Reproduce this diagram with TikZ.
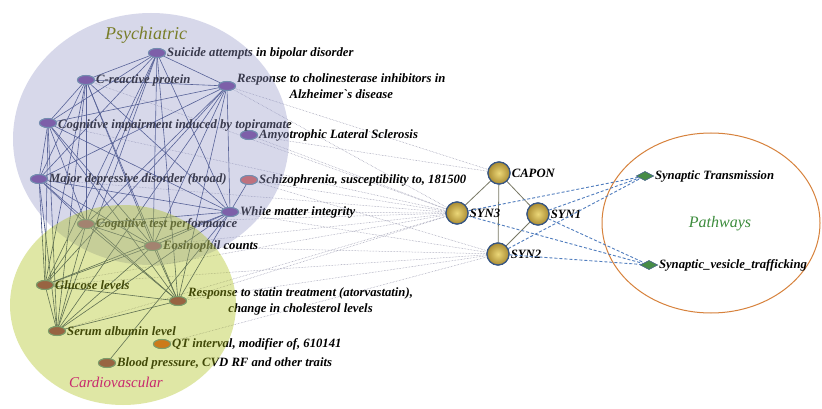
\documentclass[tikz,border=0pt]{standalone}
\usepackage{fontspec}
\setmainfont{Liberation Serif}
\usetikzlibrary{shapes.geometric}
\definecolor{psyfill}{RGB}{150,153,202}
\definecolor{cvfill}{RGB}{172,192,20}
\definecolor{netline}{RGB}{50,65,120}
\definecolor{nodeedge}{RGB}{95,135,160}
\definecolor{purp}{RGB}{110,60,150}
\definecolor{salmon}{RGB}{215,90,80}
\definecolor{qtorange}{RGB}{225,80,30}
\definecolor{maroon}{RGB}{140,45,95}
\definecolor{mauve}{RGB}{165,60,150}
\definecolor{dotgray}{RGB}{140,140,165}
\definecolor{dashblue}{RGB}{80,125,190}
\definecolor{goldin}{RGB}{235,215,120}
\definecolor{goldout}{RGB}{170,140,50}
\definecolor{geneedge}{RGB}{55,85,130}
\definecolor{genelink}{RGB}{120,120,100}
\definecolor{pwgreen}{RGB}{70,140,70}
\definecolor{pwedge}{RGB}{80,110,140}
\definecolor{ellorange}{RGB}{215,130,60}
\definecolor{psytext}{RGB}{120,125,40}
\definecolor{cvtext}{RGB}{200,40,110}
\definecolor{pwtext}{RGB}{60,140,60}
\begin{document}
\begin{tikzpicture}[x=1pt,y=-1pt,
  trait/.style={ellipse, minimum width=17pt, minimum height=9pt, inner sep=0pt, draw=nodeedge, line width=1pt},
  lab/.style={anchor=west, font=\fontsize{12.7}{16}\selectfont\bfseries\itshape, inner sep=1pt, align=center, text=black},
  netedge/.style={draw=netline, line width=0.6pt},
  gdotted/.style={draw=dotgray, densely dotted, line width=0.5pt},
  bdashed/.style={draw=dashblue, densely dashed, line width=0.9pt},
  gene/.style={circle, minimum size=22pt, inner sep=0pt, draw=geneedge, line width=1.2pt, inner color=goldin, outer color=goldout},
  pwnode/.style={diamond, minimum width=17pt, minimum height=9pt, inner sep=0pt, fill=pwgreen, draw=pwedge, line width=0.6pt},
  catlab/.style={font=\fontsize{16}{18}\selectfont\itshape, inner sep=0pt}
]
\useasboundingbox (0,0) rectangle (822,409);
\fill[white] (0,0) rectangle (822,409);

% gene nodes (declared first for edges)
\node[gene] (capon) at (499,173) {};
\node[gene] (syn3) at (457,213) {};
\node[gene] (syn1) at (538,214) {};
\node[gene] (syn2) at (498,254) {};

% trait nodes
\node[trait, fill=purp] (sui) at (157,53) {};
\node[trait, fill=purp] (crp) at (86,80) {};
\node[trait, fill=purp] (che) at (227,86) {};
\node[trait, fill=purp] (cog) at (48,123) {};
\node[trait, fill=purp] (als) at (249,135) {};
\node[trait, fill=purp] (mdd) at (39,179) {};
\node[trait, fill=salmon] (sch) at (249,180) {};
\node[trait, fill=purp] (wm) at (230,212) {};
\node[trait, fill=mauve] (ct) at (86,224) {};
\node[trait, fill=mauve] (eos) at (153,246) {};
\node[trait, fill=maroon] (glu) at (45,285) {};
\node[trait, fill=maroon] (sta) at (178,301) {};
\node[trait, fill=maroon] (alb) at (57,331) {};
\node[trait, fill=qtorange] (qt) at (162,344) {};
\node[trait, fill=maroon] (bp) at (107,363) {};

% dotted links to genes
\foreach \a in {crp,che,cog,als,mdd,sch,wm,ct,eos,glu,sta,alb}{
  \draw[gdotted] (\a) -- (syn3);
}
\foreach \a in {che,als}{
  \draw[gdotted] (\a) -- (capon);
}
\foreach \a in {sch,wm,eos,sta,qt,glu}{
  \draw[gdotted] (\a) -- (syn2);
}

% network edges
\foreach \a [count=\i] in {sui,crp,che,cog,mdd,wm,ct,eos,glu,sta,alb}{
  \foreach \b [count=\j] in {sui,crp,che,cog,mdd,wm,ct,eos,glu,sta,alb}{
    \ifnum\j>\i \draw[netedge] (\a) -- (\b); \fi
  }
}
\draw[netedge] (sch) -- (wm);
\draw[netedge] (bp) -- (wm);

% redraw nodes on top of edges
\foreach \n/\c/\x/\y in {sui/purp/157/53, crp/purp/86/80, che/purp/227/86, cog/purp/48/123, als/purp/249/135,
  mdd/purp/39/179, sch/salmon/249/180, wm/purp/230/212, ct/mauve/86/224, eos/mauve/153/246,
  glu/maroon/45/285, sta/maroon/178/301, alb/maroon/57/331, qt/qtorange/162/344, bp/maroon/107/363}{
  \node[trait, fill=\c] (\n top) at (\x,\y) {};
}

% labels
\node[lab] (suiL) at (sui.east) {Suicide attempts in bipolar disorder};
\node[lab] (crpL) at (crp.east) {C-reactive protein};
\node[lab] (cheL) at (che.east) {Response to cholinesterase inhibitors in\\Alzheimer\textasciigrave s disease};
\node[lab] (cogL) at ([yshift=-2pt]cog.east) {Cognitive impairment induced by topiramate};
\node[lab] (alsL) at (als.east) {Amyotrophic Lateral Sclerosis};
\node[lab] (mddL) at (mdd.east) {Major depressive disorder (broad)};
\node[lab] (schL) at (sch.east) {Schizophrenia, susceptibility to, 181500};
\node[lab] (wmL) at (wm.east) {White matter integrity};
\node[lab] (ctL) at (ct.east) {Cognitive test performance};
\node[lab] (eosL) at (eos.east) {Eosinophil counts};
\node[lab] (gluL) at (glu.east) {Glucose levels};
\node[lab] (staL) at (sta.east) {Response to statin treatment (atorvastatin),\\change in cholesterol levels};
\node[lab] (albL) at (alb.east) {Serum albumin level};
\node[lab] (qtL) at (qt.east) {QT interval, modifier of, 610141};
\node[lab] (bpL) at (bp.east) {Blood pressure, CVD RF and other traits};

% category overlays
\fill[psyfill, fill opacity=0.38] (151,139) ellipse [x radius=138pt, y radius=126pt];
\fill[cvfill, fill opacity=0.38] (123,305) ellipse [x radius=113pt, y radius=100pt];
\node[catlab, text=psytext, font=\fontsize{18}{20}\selectfont\itshape] (psyL) at (146,35) {Psychiatric};
\node[catlab, text=cvtext, font=\fontsize{15}{18}\selectfont\itshape] (cvL) at (116,382) {Cardiovascular};

% gene network
\draw[genelink, line width=0.8pt] (capon) -- (syn3);
\draw[genelink, line width=0.8pt] (capon) -- (syn1);
\draw[genelink, line width=0.8pt] (capon) -- (syn2);
\draw[genelink, line width=0.8pt] (syn1) -- (syn2);
\node[gene] (caponT) at (499,173) {};
\node[gene] (syn3T) at (457,213) {};
\node[gene] (syn1T) at (538,214) {};
\node[gene] (syn2T) at (498,254) {};
\node[lab] (caponL) at (caponT.east) {CAPON};
\node[lab] (syn3L) at (syn3T.east) {SYN3};
\node[lab] (syn1L) at (syn1T.east) {SYN1};
\node[lab] (syn2L) at (syn2T.east) {SYN2};

% pathways
\draw[ellorange, line width=1pt] (711,223) ellipse [x radius=109pt, y radius=90pt];
\node[pwnode] (st) at (645,176) {};
\node[pwnode] (svt) at (649,265) {};
\foreach \g in {syn3,syn1,syn2}{
  \draw[bdashed] (\g) -- (st);
  \draw[bdashed] (\g) -- (svt);
}
\node[pwnode] (stT) at (645,176) {};
\node[pwnode] (svtT) at (649,265) {};
\node[lab] (stL) at (stT.east) {Synaptic Transmission};
\node[lab] (svtL) at (svtT.east) {Synaptic\_vesicle\_trafficking};
\node[catlab, text=pwtext] (pwL) at (720,224) {Pathways};
\end{tikzpicture}
\end{document}
